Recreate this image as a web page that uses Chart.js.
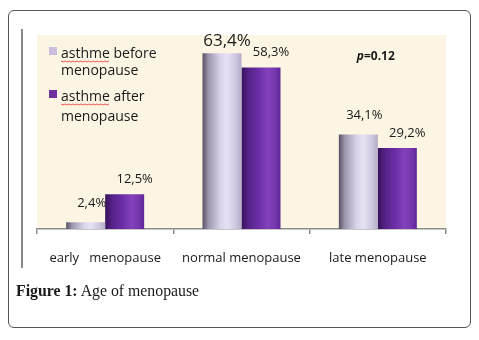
<!DOCTYPE html>
<html lang="en">
<head>
    <meta charset="UTF-8">
    <title>Age of menopause</title>
    <style>
        body {
            margin: 0;
            background: #fff;
            width: 479px;
            height: 340px;
            position: relative;
            overflow: hidden;
        }

        .frame {
            position: absolute;
            left: 8px;
            top: 10px;
            width: 461px;
            height: 316px;
            border: 1.5px solid #555;
            border-radius: 6px;
        }

        .side-line {
            position: absolute;
            left: 21px;
            top: 29px;
            width: 2px;
            height: 239px;
            background: #8a8a8a;
        }

        .caption {
            position: absolute;
            left: 16px;
            top: 282px;
            font-family: 'Liberation Serif', serif;
            font-size: 15.8px;
            color: #1a1a1a;
        }

        #chart {
            position: absolute;
            left: 0;
            top: 0;
        }
    </style>
    <script src="https://cdn.jsdelivr.net/npm/chart.js"></script>
</head>

<body>
    <div class="frame"></div>
    <div class="side-line"></div>
    <canvas id="chart" width="479" height="340"></canvas>
    <div class="caption"><b>Figure 1:</b> Age of menopause</div>

    <script>
        // data
        const categories = ['early   menopause', 'normal menopause', 'late menopause'];
        const seriesNames = ['asthme before menopause', 'asthme after menopause'];
        const beforeValues = [2.4, 63.4, 34.1];
        const afterValues = [12.5, 58.3, 29.2];
        const pValue = '0.12';

        const CAT_PCT = 0.572;
        const FONT = "'Open Sans', sans-serif";

        // cylinder-like shading for each bar
        function barGradient(chart, dsIndex, i) {
            const x = chart.scales.x;
            if (!x || !chart.chartArea) return dsIndex ? '#7030a0' : '#c9bfdc';
            const cat = x.width / categories.length;
            const w = cat * CAT_PCT / 2;
            const c = x.getPixelForValue(i);
            const left = dsIndex ? c : c - w;
            const g = chart.ctx.createLinearGradient(left, 0, left + w, 0);
            if (dsIndex === 0) {
                g.addColorStop(0, '#575164');
                g.addColorStop(0.15, '#9c96ad');
                g.addColorStop(0.45, '#d8d2e8');
                g.addColorStop(0.62, '#e6e2f4');
                g.addColorStop(0.85, '#cfc8e0');
                g.addColorStop(1, '#b4acc8');
            } else {
                g.addColorStop(0, '#38125c');
                g.addColorStop(0.2, '#58248c');
                g.addColorStop(0.45, '#6c2ea6');
                g.addColorStop(0.68, '#8242ba');
                g.addColorStop(0.88, '#7434ac');
                g.addColorStop(1, '#5c2696');
            }
            return g;
        }

        const decorPlugin = {
            id: 'decor',
            beforeDraw(chart) {
                const { ctx, chartArea: a } = chart;
                ctx.save();
                ctx.fillStyle = '#fdf5e4';
                ctx.fillRect(a.left, a.top, a.right - a.left, a.bottom - a.top);
                ctx.restore();
            },
            afterDraw(chart) {
                const { ctx, chartArea: a } = chart;
                ctx.save();

                // value labels
                ctx.textAlign = 'center';
                ctx.textBaseline = 'middle';
                ctx.fillStyle = '#1a1a1a';
                const maxVal = Math.max(...beforeValues, ...afterValues);
                chart.data.datasets.forEach((ds, d) => {
                    chart.getDatasetMeta(d).data.forEach((bar, i) => {
                        const v = ds.data[i];
                        const big = v === maxVal;
                        ctx.font = (big ? '17px ' : '13px ') + FONT;
                        const dx = d ? 10 : (big ? 5 : 6);
                        const dy = d ? -15 : (big ? -12 : -19);
                        ctx.fillText(v.toFixed(1).replace('.', ',') + '%', bar.x + dx, bar.y + dy);
                    });
                });

                // p value over the last group
                const px = chart.scales.x.getPixelForValue(2) - 2;
                const py = a.top + 22;
                ctx.font = 'italic bold 12px ' + FONT;
                const w1 = ctx.measureText('p').width;
                ctx.font = 'bold 12px ' + FONT;
                const w2 = ctx.measureText('=' + pValue).width;
                const sx = px - (w1 + w2) / 2;
                ctx.textAlign = 'left';
                ctx.font = 'italic bold 12px ' + FONT;
                ctx.fillText('p', sx, py);
                ctx.font = 'bold 12px ' + FONT;
                ctx.fillText('=' + pValue, sx + w1, py);

                // legend inside the plot
                const lx = a.left + 12;
                const rowTops = [a.top + 12, a.top + 55];
                chart.data.datasets.forEach((ds, d) => {
                    const words = ds.label.split(' ');
                    const lines = [words.slice(0, 2).join(' '), words.slice(2).join(' ')];
                    const ty = rowTops[d];
                    ctx.fillStyle = d ? '#7030a0' : '#c9bfdc';
                    ctx.fillRect(lx, ty, 8, 8);
                    ctx.fillStyle = '#1a1a1a';
                    ctx.font = '14px ' + FONT;
                    ctx.textBaseline = 'middle';
                    ctx.fillText(lines[0], lx + 12, ty + 7);
                    ctx.fillText(lines[1], lx + 12, ty + 7 + (d ? 20 : 17));

                    // spell-check squiggle under the first word
                    const sw = ctx.measureText(words[0]).width;
                    ctx.strokeStyle = '#e03030';
                    ctx.lineWidth = 0.8;
                    ctx.beginPath();
                    for (let k = 0; k <= sw; k += 2) {
                        const yy = ty + 14 + ((k / 2) % 2 ? 1 : 0);
                        if (k === 0) ctx.moveTo(lx + 12 + k, yy);
                        else ctx.lineTo(lx + 12 + k, yy);
                    }
                    ctx.stroke();
                });

                ctx.restore();
            }
        };

        const chart = new Chart(document.getElementById('chart'), {
            type: 'bar',
            data: {
                labels: categories,
                datasets: [
                    {
                        label: seriesNames[0],
                        data: beforeValues,
                        backgroundColor: (c) => barGradient(c.chart, 0, c.dataIndex)
                    },
                    {
                        label: seriesNames[1],
                        data: afterValues,
                        backgroundColor: (c) => barGradient(c.chart, 1, c.dataIndex)
                    }
                ]
            },
            options: {
                responsive: false,
                animation: false,
                categoryPercentage: CAT_PCT,
                barPercentage: 1,
                layout: {
                    padding: { left: 37, right: 33, top: 35, bottom: 71 }
                },
                plugins: {
                    legend: { display: false },
                    tooltip: { enabled: false }
                },
                scales: {
                    x: {
                        afterFit: (s) => { s.height = 40; },
                        grid: {
                            drawOnChartArea: false,
                            tickLength: 5,
                            color: '#8c8c8c',
                            lineWidth: 1.5
                        },
                        border: { color: '#8c8c8c', width: 1.5 },
                        ticks: {
                            padding: 16,
                            color: '#1a1a1a',
                            font: { family: FONT, size: 13 }
                        }
                    },
                    y: {
                        display: false,
                        min: 0,
                        max: 70
                    }
                }
            },
            plugins: [decorPlugin]
        });
    </script>
</body>

</html>
